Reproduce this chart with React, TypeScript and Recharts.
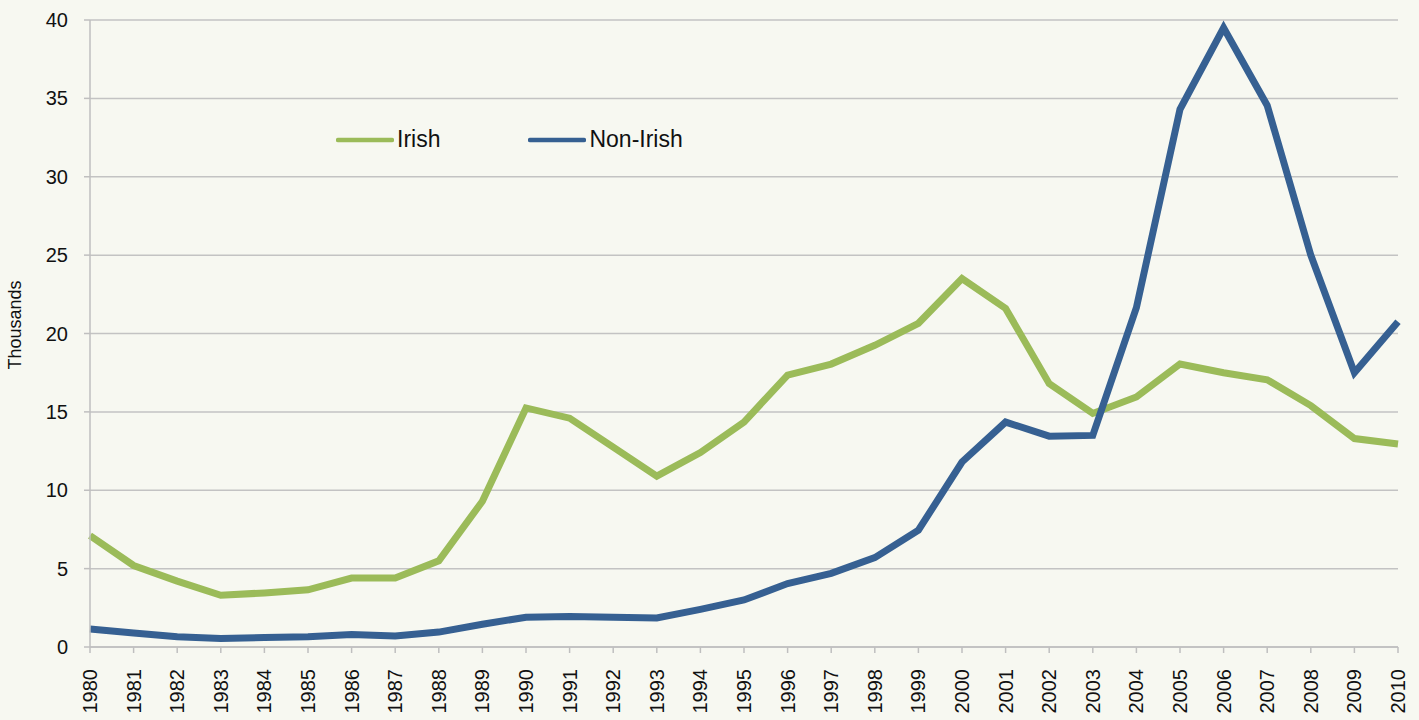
import { CartesianGrid, Label, Legend, Line, LineChart, XAxis, YAxis } from "recharts";

const years = [
  "1980", "1981", "1982", "1983", "1984", "1985", "1986", "1987", "1988", "1989",
  "1990", "1991", "1992", "1993", "1994", "1995", "1996", "1997", "1998", "1999",
  "2000", "2001", "2002", "2003", "2004", "2005", "2006", "2007", "2008", "2009", "2010",
];

const irish = [
  7.1, 5.2, 4.2, 3.3, 3.45, 3.65, 4.4, 4.4, 5.5, 9.3,
  15.25, 14.6, 12.75, 10.9, 12.4, 14.35, 17.35, 18.05, 19.25, 20.65,
  23.5, 21.6, 16.8, 14.9, 15.95, 18.05, 17.5, 17.05, 15.4, 13.3, 12.95,
];

const nonIrish = [
  1.15, 0.9, 0.65, 0.55, 0.6, 0.65, 0.8, 0.7, 0.95, 1.45,
  1.9, 1.95, 1.9, 1.85, 2.4, 3.0, 4.05, 4.7, 5.7, 7.45,
  11.8, 14.35, 13.45, 13.5, 21.65, 34.3, 39.5, 34.55, 25.0, 17.5, 20.75,
];

const yTicks = [0, 5, 10, 15, 20, 25, 30, 35, 40];

const data = years.map((year, i) => ({ year, irish: irish[i], nonIrish: nonIrish[i] }));

const FONT = "'Liberation Sans', Arial, sans-serif";
const GREEN = "#9bbb59";
const BLUE = "#366092";

function YearTick({ x, y, payload }: any) {
  return (
    <text
      transform={`translate(${x},${y + 14}) rotate(-90)`}
      textAnchor="end"
      dy="0.35em"
      fontSize={20}
      fontFamily={FONT}
      fill="#111"
    >
      {payload.value}
    </text>
  );
}

function renderLegend({ payload }: any) {
  return (
    <div style={{ display: "flex", fontFamily: FONT, fontSize: 23, color: "#111" }}>
      {payload.map((p: any, i: number) => (
        <div key={p.value} style={{ display: "flex", alignItems: "center", marginRight: i === 0 ? 88 : 0 }}>
          <svg width={58} height={10}>
            <line x1={2} y1={5} x2={56} y2={5} stroke={p.color} strokeWidth={4.5} strokeLinecap="round" />
          </svg>
          <span style={{ marginLeft: 3 }}>{p.value}</span>
        </div>
      ))}
    </div>
  );
}

export default function App() {
  return (
    <div style={{ position: "absolute", left: 0, top: 0, width: 1419, height: 720, background: "#f7f8f1" }}>
      <LineChart width={1419} height={720} data={data} margin={{ top: 20, right: 21, left: 0, bottom: 0 }}>
        <CartesianGrid vertical={false} stroke="#c3c3c3" strokeWidth={1.5} />
        <XAxis
          dataKey="year"
          interval={0}
          height={73}
          tickSize={6}
          tick={<YearTick />}
          stroke="#bfbfbf"
          strokeWidth={1.5}
        />
        <YAxis
          width={90}
          domain={[0, 40]}
          ticks={yTicks}
          tickSize={6}
          tickMargin={16}
          stroke="#bfbfbf"
          strokeWidth={1.5}
          tick={{ fontSize: 20, fontFamily: FONT, fill: "#111" }}
        >
          <Label
            content={() => (
              <text
                transform="translate(21,325) rotate(-90)"
                textAnchor="middle"
                fontSize={18}
                fontFamily={FONT}
                fill="#111"
              >
                Thousands
              </text>
            )}
          />
        </YAxis>
        <Legend
          content={renderLegend}
          layout="horizontal"
          verticalAlign="middle"
          align="center"
          wrapperStyle={{ top: 126, left: 336, width: "auto" }}
        />
        <Line
          type="linear"
          dataKey="irish"
          name="Irish"
          stroke={GREEN}
          strokeWidth={7}
          dot={false}
          isAnimationActive={false}
        />
        <Line
          type="linear"
          dataKey="nonIrish"
          name="Non-Irish"
          stroke={BLUE}
          strokeWidth={7}
          dot={false}
          isAnimationActive={false}
        />
      </LineChart>
    </div>
  );
}
